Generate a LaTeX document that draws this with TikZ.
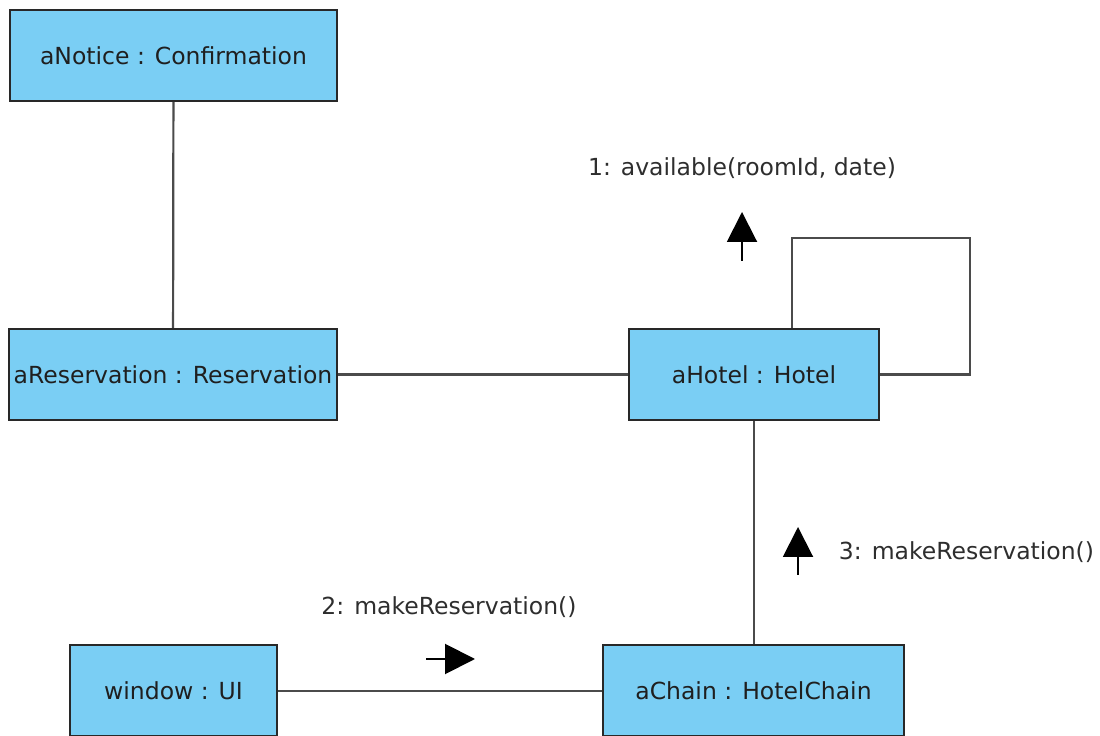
\documentclass[tikz,border=0pt]{standalone}
\usepackage{fontspec}
\setmainfont{DejaVu Sans}
\usetikzlibrary{arrows.meta}
\definecolor{objfill}{RGB}{122,206,244}
\definecolor{objline}{RGB}{40,40,40}
\definecolor{linkline}{RGB}{75,75,75}
\begin{document}
\begin{tikzpicture}[x=1pt,y=1pt,
  obj/.style={draw=objline, line width=2pt, fill=objfill, minimum height=91pt,
    inner sep=0pt, font=\fontsize{23.5}{26}\selectfont, text=black!88},
  link/.style={draw=linkline, line width=2.2pt},
  msg/.style={font=\fontsize{23.5}{26}\selectfont, text=black!82, inner sep=0pt},
  msgarrow/.style={line width=2pt, -{Triangle[length=30pt,width=30pt]}}
]
\fill[white] (0,0) rectangle (1100,736);
\useasboundingbox (0,0) rectangle (1100,736);
\clip (0,0) rectangle (1100,736);

% objects
\node[obj, minimum width=327pt] (notice) at (173.5,680.5) {aNotice : Confirmation};
\node[obj, minimum width=328pt] (reservation) at (173,361.5) {aReservation : Reservation};
\node[obj, minimum width=250pt] (hotel) at (754,361.5) {aHotel : Hotel};
\node[obj, minimum width=207pt] (window) at (173.5,45) {window : UI};
\node[obj, minimum width=301pt] (chain) at (753.5,45) {aChain : HotelChain};

% links
\draw[link] (notice) -- (reservation);
\draw[link] (reservation) -- (hotel);
\draw[link] (hotel.south) -- (hotel.south |- chain.north);
\draw[link] (window) -- (chain);
\coordinate (loopcorner) at (970,498);
\draw[link] ([xshift=38pt]hotel.north) |- (loopcorner) |- (hotel.east);

% messages
\node[msg] (m1) at (742,568) {1: available(roomId, date)};
\coordinate (a1s) at (742,475);
\coordinate (a1e) at (742,524);
\draw[msgarrow] (a1s) -- (a1e);

\node[msg] (m2) at (449,129) {2: makeReservation()};
\coordinate (a2s) at (426,77);
\coordinate (a2e) at (475,77);
\draw[msgarrow] (a2s) -- (a2e);

\node[msg] (m3) at (966.5,184) {3: makeReservation()};
\coordinate (a3s) at (798,161);
\coordinate (a3e) at (798,209);
\draw[msgarrow] (a3s) -- (a3e);
\end{tikzpicture}
\end{document}
